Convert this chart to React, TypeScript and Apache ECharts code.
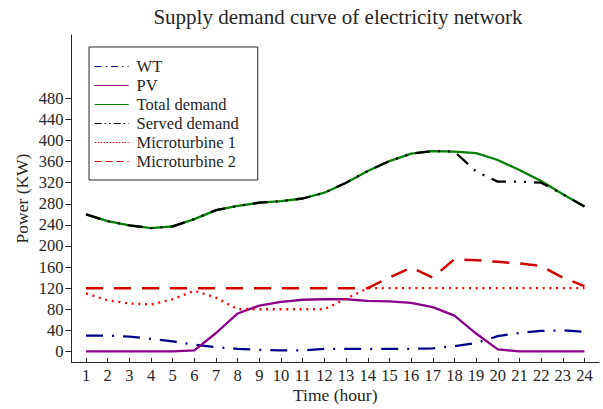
import React, { useEffect, useRef } from "react";
import * as echarts from "echarts";

const hours = [1, 2, 3, 4, 5, 6, 7, 8, 9, 10, 11, 12, 13, 14, 15, 16, 17, 18, 19, 20, 21, 22, 23, 24];
const wt = [30, 30, 28, 24, 19, 13, 8, 5, 3, 2, 2, 5, 5, 5, 5, 5, 6, 10, 16, 29, 35, 39, 40, 37];
const pv = [0, 0, 0, 0, 0, 2, 35, 72, 87, 94, 98, 99, 99, 96, 95, 92, 84, 68, 34, 4, 0, 0, 0, 0];
const totalDemand = [260, 247, 239, 234, 237, 251, 268, 276, 282, 285, 290, 301, 320, 342, 361, 375, 380, 379, 376, 363, 344, 323, 298, 275];
const servedDemand = [260, 247, 239, 234, 237, 251, 268, 276, 282, 285, 290, 301, 320, 342, 361, 375, 380, 379, 341, 322, 322, 320, 298, 275];
const mt1 = [110, 97, 91, 89, 99, 115, 102, 80, 80, 80, 80, 80, 100, 120, 120, 120, 120, 120, 120, 120, 120, 120, 120, 120];
const mt2 = [120, 120, 120, 120, 120, 120, 120, 120, 120, 120, 120, 120, 120, 120, 140, 159, 140, 175, 173, 170, 167, 162, 140, 124];
const yTicks = [0, 40, 80, 120, 160, 200, 240, 280, 320, 360, 400, 440, 480];

const FONT = "Liberation Serif";
const TXT = "#262626";

export default function App() {
  const ref = useRef<HTMLDivElement>(null);
  useEffect(() => {
    const chart = echarts.init(ref.current!, null, { renderer: "svg" });
    const pair = (arr: number[]) => hours.map((h, i) => [h, arr[i]]);
    const mk = (name: string, data: number[], color: string, type: any, width: number, z: number) => ({
      name,
      type: "line",
      data: pair(data),
      symbol: "none",
      z,
      lineStyle: { color, type, width, cap: "butt" },
      itemStyle: { color },
    });
    chart.setOption({
      animation: false,
      backgroundColor: "#ffffff",
      title: {
        text: "Supply demand curve of electricity network",
        left: 333,
        textAlign: "center",
        top: 1,
        textStyle: { fontFamily: FONT, fontSize: 21, fontWeight: "normal", color: TXT },
      },
      grid: { left: 71.5, right: 4, top: 35, bottom: 47, containLabel: false, outerBoundsMode: "none" },
      legend: {
        orient: "vertical",
        left: 89,
        top: 47,
        padding: [11, 19, 10, 5],
        itemWidth: 34,
        itemHeight: 14,
        itemGap: 2,
        icon: "inherit",
        itemStyle: { opacity: 0 },
        borderColor: "#262626",
        borderWidth: 1,
        backgroundColor: "#ffffff",
        textStyle: { fontFamily: FONT, fontSize: 16.5, color: TXT, padding: [0, 0, 0, 3] },
        data: [
          { name: "WT", lineStyle: { width: 1.2, type: [7, 4, 1.5, 4] } },
          { name: "PV", lineStyle: { width: 1.2 } },
          { name: "Total demand", lineStyle: { width: 1.2 } },
          { name: "Served demand", lineStyle: { width: 1.2, type: [7, 3, 1.5, 3, 1.5, 3] } },
          { name: "Microturbine 1", lineStyle: { width: 1.2, type: [1.5, 1.5] } },
          { name: "Microturbine 2", lineStyle: { width: 1.2, type: [7, 4] } },
        ],
      },
      xAxis: {
        type: "value",
        min: 0.33,
        max: 24.67,
        name: "Time (hour)",
        nameLocation: "middle",
        nameGap: 25,
        nameMoveOverlap: false,
        nameTextStyle: { fontFamily: FONT, fontSize: 17.5, lineHeight: 16, color: TXT, verticalAlign: "top" },
        axisLine: { show: true, onZero: false, lineStyle: { color: TXT, width: 1 } },
        axisTick: { show: true, inside: true, length: 4, customValues: hours, lineStyle: { color: TXT } },
        axisLabel: { customValues: hours, fontFamily: FONT, fontSize: 16.5, lineHeight: 16, color: TXT, margin: 5 },
        splitLine: { show: false },
      },
      yAxis: {
        type: "value",
        min: -20,
        max: 600,
        name: "Power (KW)",
        nameLocation: "middle",
        nameGap: 41,
        nameRotate: 90,
        nameMoveOverlap: false,
        nameTextStyle: { fontFamily: FONT, fontSize: 17.5, color: TXT },
        axisLine: { show: true, onZero: false, lineStyle: { color: TXT, width: 1 } },
        axisTick: { show: true, inside: false, length: 6, customValues: yTicks, lineStyle: { color: TXT } },
        axisLabel: { customValues: yTicks, fontFamily: FONT, fontSize: 16.5, color: TXT, margin: 8 },
        splitLine: { show: false },
      },
      series: [
        mk("WT", wt, "#00008b", [17, 9, 2, 9], 2.3, 2),
        mk("PV", pv, "#8b008b", "solid", 2.3, 2),
        mk("Total demand", totalDemand, "#008000", "solid", 2.3, 2),
        mk("Served demand", servedDemand, "#000000", [15, 8, 2, 8, 2, 8], 2.3, 3),
        mk("Microturbine 1", mt1, "#ff0000", [2, 4.7], 2.3, 2),
        mk("Microturbine 2", mt2, "#d00000", [17, 11], 2.5, 2),
      ],
    });
    return () => chart.dispose();
  }, []);
  return <div ref={ref} style={{ position: "absolute", left: 0, top: 0, width: 603, height: 409 }} />;
}
